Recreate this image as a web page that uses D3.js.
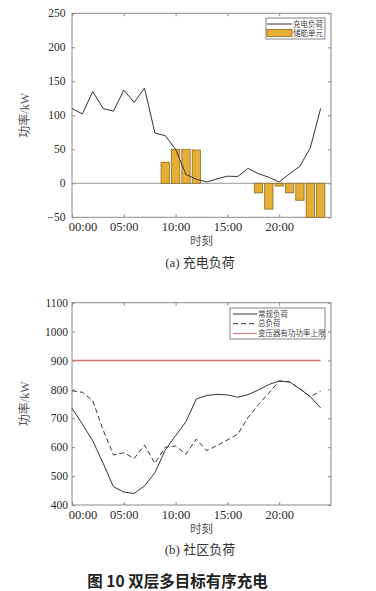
<!DOCTYPE html>
<html>
<head>
<meta charset="utf-8">
<script src="https://cdn.jsdelivr.net/npm/d3@7"></script>
<style>
  body { margin: 0; background: #fff; }
</style>
</head>
<body>
<svg id="chart"></svg>
<script>
// Data
var hours = d3.range(0, 25);
var xTicks = [0, 5, 10, 15, 20];
var xTickLabels = ["00:00", "05:00", "10:00", "15:00", "20:00"];

// (a) charging load and storage unit
var chargeLoad = [110, 102, 135, 110, 106, 137, 119, 140, 74, 70, 50, 13, 6, 2, 6.5, 10.5, 10, 22, 14, 9, 2, 14, 25, 52, 110];
var storageHours = [9, 10, 11, 12, 18, 19, 20, 21, 22, 23, 24];
var storageVals = [31, 50, 50, 49, -14, -38, -4, -14, -25, -50, -50];
var yTicksA = [-50, 0, 50, 100, 150, 200, 250];

// (b) community load
var baseLoad = [735, 680, 622, 545, 463, 445, 440, 466, 512, 590, 640, 688, 767, 779, 783, 781, 773, 782, 798, 817, 829, 826, 802, 775, 736];
var totalLoad = [795, 790, 761, 660, 573, 581, 561, 607, 544, 600, 604, 576, 628, 588, 606, 625, 645, 703, 748, 787, 829, 826, 802, 775, 794];
var transformerLimit = 900;
var yTicksB = [400, 500, 600, 700, 800, 900, 1000, 1100];

var serif = "'Liberation Serif', 'Times New Roman', serif";
var cjk = "'Liberation Serif', 'Noto Sans CJK SC', serif";

var width = 376, height = 591;
var svg = d3.select("#chart").attr("width", width).attr("height", height);

var x = d3.scaleLinear().domain([0, 25]).range([72, 331]);
var yA = d3.scaleLinear().domain([-50, 250]).range([217.3, 13.3]);
var yB = d3.scaleLinear().domain([400, 1100]).range([505, 302.7]);

var axisColor = "#8a8a8a";

function fmtY(d) { return d < 0 ? "\u2212" + Math.abs(d) : d; }

// draws the frame, inward ticks on all four sides and labels
function drawFrame(y, yTicks, yPad) {
    var g = svg.append("g");
    var y0 = y.range()[0], y1 = y.range()[1];

    var bottom = g.append("g").attr("transform", "translate(0," + y0 + ")")
        .call(d3.axisBottom(x).tickValues(xTicks).tickSize(-3).tickPadding(5)
            .tickFormat(function (d, i) { return xTickLabels[i]; }));
    bottom.selectAll("text").style("font-size", "12.5px")
        .attr("dx", function (d) { return d === 0 ? 10.5 : 0; });

    g.append("g").attr("transform", "translate(0," + y1 + ")")
        .call(d3.axisTop(x).tickValues(xTicks).tickSize(-3).tickFormat(""));

    var left = g.append("g").attr("transform", "translate(" + x.range()[0] + ",0)")
        .call(d3.axisLeft(y).tickValues(yTicks).tickSize(-3).tickPadding(yPad).tickFormat(fmtY));
    left.selectAll("text").style("font-size", "11.5px");

    g.append("g").attr("transform", "translate(" + x.range()[1] + ",0)")
        .call(d3.axisRight(y).tickValues(yTicks).tickSize(-3).tickFormat(""));

    g.selectAll(".domain").remove();
    g.selectAll(".tick line").attr("stroke", axisColor);
    g.selectAll(".tick text").style("font-family", serif).style("fill", "#2a2a2a");

    g.append("rect")
        .attr("x", x.range()[0]).attr("y", y1)
        .attr("width", x.range()[1] - x.range()[0]).attr("height", y0 - y1)
        .attr("fill", "none").attr("stroke", axisColor).attr("stroke-width", 1);
    return g;
}

function axisTitles(y, xLabelY, captionY, caption) {
    var mid = (y.range()[0] + y.range()[1]) / 2;
    svg.append("text").attr("x", 201.5).attr("y", xLabelY)
        .attr("text-anchor", "middle").attr("dominant-baseline", "central")
        .style("font-family", cjk).style("font-size", "11.5px").style("fill", "#555").text("时刻");
    svg.append("text")
        .attr("transform", "translate(25," + mid + ") rotate(-90)")
        .attr("text-anchor", "middle").attr("dominant-baseline", "central")
        .style("font-family", cjk).style("font-size", "12px").style("fill", "#555").text("功率/kW");
    svg.append("text").attr("x", 200).attr("y", captionY)
        .attr("text-anchor", "middle").attr("dominant-baseline", "central")
        .style("font-family", cjk).style("font-size", "13px").style("fill", "#333").text(caption);
}

// ---------- (a) ----------
drawFrame(yA, yTicksA, 6.5);

// zero line
svg.append("line")
    .attr("x1", x.range()[0]).attr("x2", x.range()[1])
    .attr("y1", yA(0)).attr("y2", yA(0))
    .attr("stroke", "#999").attr("stroke-width", 1);

var barW = (x(1) - x(0)) * 0.8;
svg.append("g").selectAll("rect")
    .data(storageHours.map(function (h, i) { return { h: h, v: storageVals[i] }; }))
    .enter().append("rect")
    .attr("x", function (d) { return x(d.h) - barW / 2; })
    .attr("y", function (d) { return yA(Math.max(d.v, 0)); })
    .attr("width", barW)
    .attr("height", function (d) { return Math.abs(yA(d.v) - yA(0)); })
    .attr("fill", "#e6ae35").attr("stroke", "#8f6a1e").attr("stroke-width", 0.8);

var line = d3.line().x(function (d, i) { return x(hours[i]); });

svg.append("path").datum(chargeLoad)
    .attr("d", line.y(function (d) { return yA(d); }))
    .attr("fill", "none").attr("stroke", "#333").attr("stroke-width", 1);

// legend (a)
var legA = svg.append("g").style("font-family", cjk);
legA.append("rect").attr("x", 266).attr("y", 18).attr("width", 59).attr("height", 21)
    .attr("fill", "#fff").attr("stroke", "#666").attr("stroke-width", 0.8);
legA.append("line").attr("x1", 267).attr("x2", 292).attr("y1", 24).attr("y2", 24)
    .attr("stroke", "#333").attr("stroke-width", 1);
legA.append("rect").attr("x", 267).attr("y", 29.5).attr("width", 25).attr("height", 7)
    .attr("fill", "#e6ae35").attr("stroke", "#8f6a1e").attr("stroke-width", 0.8);
legA.append("text").attr("x", 293).attr("y", 24).attr("dominant-baseline", "central")
    .style("font-size", "7.5px").style("fill", "#444").text("充电负荷");
legA.append("text").attr("x", 293).attr("y", 33).attr("dominant-baseline", "central")
    .style("font-size", "7.5px").style("fill", "#444").text("储能单元");

axisTitles(yA, 241, 262, "(a) 充电负荷");

// ---------- (b) ----------
drawFrame(yB, yTicksB, 4);

svg.append("line")
    .attr("x1", x(0)).attr("x2", x(24))
    .attr("y1", yB(transformerLimit)).attr("y2", yB(transformerLimit))
    .attr("stroke", "#d4736d").attr("stroke-width", 1.5);

svg.append("path").datum(baseLoad)
    .attr("d", line.y(function (d) { return yB(d); }))
    .attr("fill", "none").attr("stroke", "#333").attr("stroke-width", 1);

svg.append("path").datum(totalLoad)
    .attr("d", line.y(function (d) { return yB(d); }))
    .attr("fill", "none").attr("stroke", "#333").attr("stroke-width", 1)
    .attr("stroke-dasharray", "5,3");

// legend (b)
var legB = svg.append("g").style("font-family", cjk);
legB.append("rect").attr("x", 230).attr("y", 308).attr("width", 95).attr("height", 31)
    .attr("fill", "#fff").attr("stroke", "#666").attr("stroke-width", 0.8);
var legItems = [
    { label: "常规负荷", color: "#333", dash: null },
    { label: "总负荷", color: "#333", dash: "5,3" },
    { label: "变压器有功功率上限", color: "#d4736d", dash: null }
];
legItems.forEach(function (d, i) {
    var yy = 314 + i * 9.7;
    legB.append("line").attr("x1", 233).attr("x2", 257).attr("y1", yy).attr("y2", yy)
        .attr("stroke", d.color).attr("stroke-width", 1).attr("stroke-dasharray", d.dash);
    legB.append("text").attr("x", 258).attr("y", yy).attr("dominant-baseline", "central")
        .style("font-size", "7.5px").style("fill", "#444").text(d.label);
});

axisTitles(yB, 529, 549, "(b) 社区负荷");

// figure title
svg.append("text").attr("x", 177.5).attr("y", 580)
    .attr("text-anchor", "middle").attr("dominant-baseline", "central")
    .style("font-family", "'Noto Sans CJK SC', sans-serif")
    .style("font-size", "15.5px").style("font-weight", "bold").style("fill", "#222")
    .text("图 10 双层多目标有序充电");
</script>
</body>
</html>
